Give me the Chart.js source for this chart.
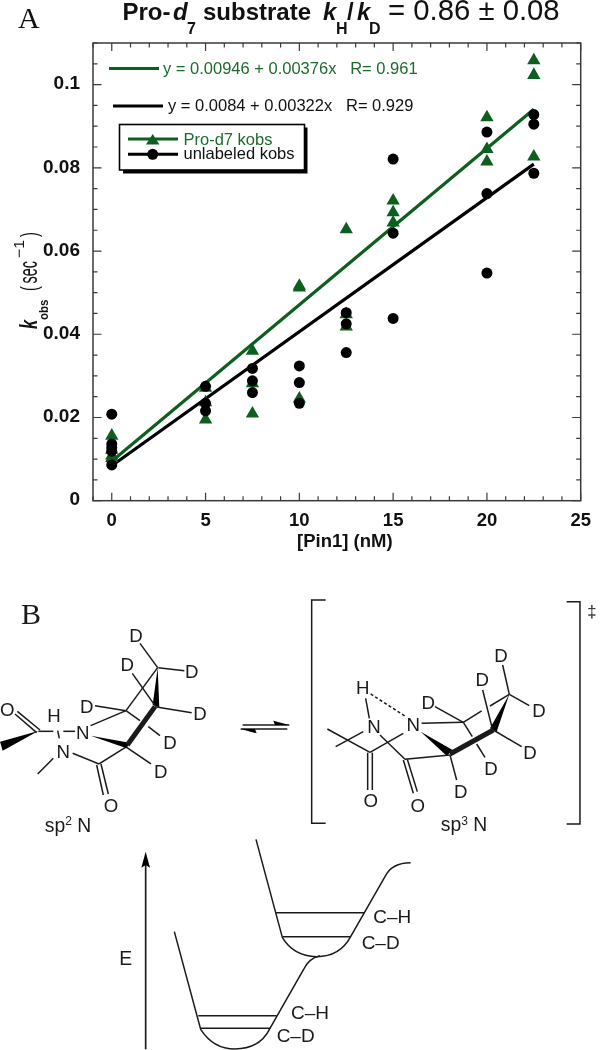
<!DOCTYPE html>
<html>
<head>
<meta charset="utf-8">
<title>Pro-d7 substrate kH/kD</title>
<script src="https://cdn.jsdelivr.net/npm/chart.js@4/dist/chart.umd.min.js"></script>
<style>
  html, body { margin: 0; padding: 0; background: #fff; }
  #wrap { position: relative; width: 600px; height: 1050px; overflow: hidden; }
  #kobsChart { position: absolute; left: 0; top: 0; }
  #scheme { position: absolute; left: 0; top: 0; }
  #scheme text { font-family: "Liberation Sans", Arial, sans-serif; fill: #1a1a1a; }
  #scheme .serif { font-family: "Liberation Serif", serif; }
  #scheme line, #scheme path.l { stroke: #1a1a1a; fill: none; }
</style>
</head>
<body>
<div id="wrap">
  <canvas id="kobsChart" width="600" height="560"></canvas>

  <!-- part B is a drawing, not data. coordinates are in 1/3 px -->
  <svg id="scheme" width="600" height="1050" viewBox="0 0 600 1050">
    <text class="serif" x="21" y="624" font-size="30">B</text>

    <g transform="translate(0,570) scale(0.3333)" stroke-width="4.5">
      <g font-size="56" text-anchor="middle" transform="translate(0,1)">
        <text x="22" y="437">O</text><text x="162" y="456">H</text>
        <text x="248" y="506">N</text><text x="190" y="564">N</text>
        <text x="333" y="726">O</text><text x="408" y="214">D</text>
        <text x="382" y="302">D</text><text x="575" y="324">D</text>
        <text x="260" y="427">D</text><text x="600" y="449">D</text>
        <text x="510" y="537">D</text><text x="482" y="622">D</text>
        <text x="204" y="785" font-size="58">sp<tspan font-size="36" dy="-20">2</tspan><tspan dy="20"> N</tspan></text>
      </g>
      <line x1="45" y1="432" x2="110" y2="488"/><line x1="52" y1="424" x2="120" y2="480"/>
      <path d="M115 483 L0 515 L8 542 Z" fill="#000"/>
      <line x1="115" y1="484" x2="160" y2="484"/><line x1="173" y1="482" x2="178" y2="505"/>
      <line x1="190" y1="484" x2="225" y2="484"/><line x1="160" y1="565" x2="113" y2="612"/>
      <line x1="218" y1="550" x2="297" y2="582"/><line x1="290" y1="585" x2="310" y2="675"/>
      <line x1="303" y1="582" x2="325" y2="672"/><line x1="297" y1="582" x2="380" y2="530"/>
      <path d="M272 497 L388 518 L380 535 Z" fill="#000"/>
      <line x1="382" y1="525" x2="465" y2="410" stroke-width="15" stroke="#000"/>
      <path d="M458 405 L478 412 L473 293 Z" fill="#000"/>
      <line x1="473" y1="293" x2="378" y2="422"/><line x1="475" y1="293" x2="553" y2="302"/>
      <line x1="473" y1="293" x2="420" y2="220"/><line x1="272" y1="467" x2="378" y2="422"/>
      <line x1="378" y1="422" x2="285" y2="407"/><line x1="378" y1="422" x2="420" y2="452"/>
      <line x1="445" y1="470" x2="480" y2="497"/><line x1="397" y1="310" x2="465" y2="407"/>
      <line x1="465" y1="410" x2="575" y2="428"/><line x1="380" y1="532" x2="453" y2="582"/>
      <line x1="728" y1="465" x2="868" y2="465"/><path d="M820 452 L868 465 L825 465 Z" fill="#000"/>
      <line x1="722" y1="477" x2="862" y2="477"/><path d="M722 477 L770 490 L765 477 Z" fill="#000"/>
    </g>

    <g transform="translate(300,570) scale(0.3333)" stroke-width="4.5">
      <path class="l" d="M77 90 L35 90 L35 760 L77 760"/><path class="l" d="M800 95 L840 95 L840 762 L800 762"/>
      <g font-size="56" text-anchor="middle" transform="translate(0,1)">
        <text x="188" y="372">H</text><text x="222" y="489">N</text><text x="340" y="481">N</text>
        <text x="212" y="709">O</text><text x="353" y="724">O</text><text x="603" y="276">D</text>
        <text x="547" y="347">D</text><text x="385" y="417">D</text><text x="717" y="441">D</text>
        <text x="690" y="566">D</text><text x="573" y="614">D</text><text x="482" y="684">D</text>
        <text x="492" y="783" font-size="58">sp<tspan font-size="36" dy="-20">3</tspan><tspan dy="20"> N</tspan></text>
        <text x="876" y="140" font-size="50">‡</text>
      </g>
      <line x1="197" y1="385" x2="208" y2="445"/>
      <line x1="212" y1="372" x2="318" y2="440" stroke-dasharray="9 7"/>
      <line x1="82" y1="477" x2="210" y2="547"/><line x1="107" y1="530" x2="190" y2="485"/>
      <line x1="210" y1="547" x2="310" y2="490"/><line x1="240" y1="495" x2="315" y2="568"/>
      <line x1="203" y1="548" x2="203" y2="660"/><line x1="217" y1="548" x2="217" y2="660"/>
      <line x1="310" y1="570" x2="340" y2="670"/><line x1="322" y1="568" x2="352" y2="665"/>
      <line x1="315" y1="568" x2="450" y2="555"/>
      <path d="M362 485 L458 540 L440 557 Z" fill="#000"/>
      <line x1="450" y1="552" x2="580" y2="480" stroke-width="15" stroke="#000"/>
      <path d="M570 475 L590 485 L628 373 Z" fill="#000"/>
      <line x1="628" y1="373" x2="570" y2="408"/><line x1="545" y1="423" x2="490" y2="457"/>
      <line x1="628" y1="373" x2="688" y2="407"/><line x1="628" y1="373" x2="608" y2="285"/>
      <line x1="365" y1="460" x2="490" y2="457"/><line x1="490" y1="457" x2="405" y2="410"/>
      <line x1="490" y1="457" x2="517" y2="500"/><line x1="530" y1="522" x2="555" y2="562"/>
      <line x1="548" y1="360" x2="578" y2="480"/><line x1="580" y1="480" x2="665" y2="530"/>
      <line x1="450" y1="555" x2="470" y2="630"/>
    </g>

    <g transform="translate(100,820) scale(0.3333)" stroke-width="4.5">
      <line x1="137" y1="688" x2="137" y2="130" stroke-width="5"/>
      <path d="M137 95 L124 143 L137 135 L150 143 Z" fill="#000"/>
      <path class="l" d="M223 335 L302 628 Q340 687 405 687 Q480 687 510 625 L610 450 Q625 415 660 407"/>
      <path class="l" d="M468 58 L547 352 Q580 408 650 410 Q720 410 752 350 L855 170 Q875 128 932 128"/>
      <line x1="295" y1="587" x2="530" y2="587"/><line x1="303" y1="625" x2="510" y2="625"/>
      <line x1="528" y1="278" x2="793" y2="278"/><line x1="548" y1="350" x2="752" y2="350"/>
      <g font-size="57">
        <text x="573" y="598">C–H</text><text x="530" y="666">C–D</text>
        <text x="820" y="309">C–H</text><text x="785" y="386">C–D</text>
        <text x="58" y="435" font-size="58">E</text>
      </g>
    </g>
  </svg>
</div>

<script>
// [Pin1] en nM, kobs en 1/s
const proD7X = [0, 0, 0, 0, 5, 5, 5, 7.5, 7.5, 7.5, 10, 10, 10, 12.5, 12.5, 12.5, 15, 15, 15, 20, 20, 20, 22.5, 22.5, 22.5];
const proD7Y = [0.0156, 0.0122, 0.0108, 0.0102, 0.0271, 0.0236, 0.0195, 0.036, 0.0282, 0.0209, 0.0516, 0.0512, 0.0245, 0.0652, 0.0448, 0.0418, 0.0721, 0.0693, 0.0668, 0.0921, 0.0845, 0.0815, 0.1058, 0.1023, 0.0827];
const unlabeledX = [0, 0, 0, 0, 0, 5, 5, 5, 7.5, 7.5, 7.5, 10, 10, 10, 12.5, 12.5, 12.5, 15, 15, 15, 20, 20, 20, 22.5, 22.5, 22.5];
const unlabeledY = [0.0208, 0.0136, 0.0127, 0.0119, 0.0086, 0.0275, 0.0234, 0.0216, 0.0318, 0.0288, 0.026, 0.0324, 0.0284, 0.0234, 0.0452, 0.0425, 0.0356, 0.0821, 0.0643, 0.0438, 0.0886, 0.0738, 0.0547, 0.0928, 0.0905, 0.0787];

// extremos de las rectas de ajuste
const fitX = [0, 22.5];
const proD7Fit = [0.0095, 0.0941];
const unlabeledFit = [0.0084, 0.0809];

const seriesNames = ['Pro-d7 kobs', 'unlabeled kobs'];
const fitNotes = ['y = 0.00946 + 0.00376x   R= 0.961', 'y = 0.0084 + 0.00322x   R= 0.929'];
const xTickLabels = ['0', '5', '10', '15', '20', '25'];
const yTickLabels = ['0', '0.02', '0.04', '0.06', '0.08', '0.1'];

const GREEN = '#0c5f1e';
const GREEN_TEXT = '#1c6b2c';
const INK = '#111';
const SANS = '"Liberation Sans", Arial, sans-serif';

function toPoints(xs, ys) {
  return xs.map((x, i) => ({ x: x, y: ys[i] }));
}

// sx estira el texto a lo largo, el eje y de la figura original esta comprimido
function put(ctx, text, x, y, font, color, sx) {
  ctx.save();
  ctx.translate(x, y);
  ctx.scale(sx || 1, 1);
  ctx.font = font;
  ctx.fillStyle = color || INK;
  ctx.textAlign = 'left';
  ctx.textBaseline = 'alphabetic';
  ctx.fillText(text, 0, 0);
  ctx.restore();
}

// marco y marcas hacia dentro
const framePlugin = {
  id: 'frame',
  beforeDatasetsDraw(chart) {
    const { ctx, chartArea: a, scales } = chart;
    ctx.save();
    ctx.strokeStyle = '#3a3a3a';
    ctx.lineWidth = 1.5;
    ctx.strokeRect(a.left, a.top, a.right - a.left, a.bottom - a.top);
    ctx.lineWidth = 1.2;
    ctx.beginPath();
    scales.x.ticks.forEach(t => {
      const px = scales.x.getPixelForValue(t.value);
      const len = t.value % 5 === 0 ? 8 : 4.5;
      ctx.moveTo(px, a.bottom); ctx.lineTo(px, a.bottom - len);
      ctx.moveTo(px, a.top); ctx.lineTo(px, a.top + len);
    });
    scales.y.ticks.forEach(t => {
      const py = scales.y.getPixelForValue(t.value);
      const major = Math.round(t.value * 1000) % 20 === 0;
      const len = major ? 8.5 : 4.5;
      ctx.moveTo(a.left, py); ctx.lineTo(a.left + len, py);
      ctx.moveTo(a.right, py); ctx.lineTo(a.right - len, py);
    });
    ctx.stroke();
    ctx.restore();
  }
};

// titulo, etiquetas, ecuaciones y leyenda
const notesPlugin = {
  id: 'notes',
  afterDraw(chart) {
    const ctx = chart.ctx;
    const b = 'bold 24px ' + SANS, bi = 'italic bold 24px ' + SANS, sub = 'bold 16px ' + SANS;

    put(ctx, 'A', 18, 28, '30px "Liberation Serif", serif', INK);

    put(ctx, 'Pro-', 122.5, 20, b);
    put(ctx, 'd', 173, 20, bi);
    put(ctx, '7', 187, 34, sub);
    put(ctx, 'substrate', 203, 20, b);
    put(ctx, 'k', 323, 20, bi);
    put(ctx, 'H', 336, 34, sub);
    put(ctx, '/', 347, 20, b);
    put(ctx, 'k', 357, 20, bi);
    put(ctx, 'D', 369, 34, sub);
    put(ctx, '= 0.86 ± 0.08', 388, 20, '29.3px ' + SANS);

    // ejes
    put(ctx, '[Pin1] (nM)', 297, 547, 'bold 18.5px ' + SANS);
    ctx.save();
    ctx.translate(37, 329);
    ctx.rotate(-Math.PI / 2);
    put(ctx, 'k', 0, 0, 'italic bold 24px ' + SANS, INK, 0.68);
    put(ctx, 'obs', 9, 10.5, 'bold 13px ' + SANS, INK, 0.88);
    put(ctx, '(', 38, 0, '24px ' + SANS, INK, 0.6);
    put(ctx, 'sec', 45.5, 0, '25px ' + SANS, INK, 0.58);
    put(ctx, '−1', 71, -13, '15px ' + SANS, INK, 1.05);
    put(ctx, ')', 92, 0, '24px ' + SANS, INK, 0.6);
    ctx.restore();

    // ecuaciones
    ctx.save();
    ctx.lineWidth = 3.2;
    ctx.strokeStyle = GREEN;
    ctx.beginPath(); ctx.moveTo(109, 68.5); ctx.lineTo(159, 68.5); ctx.stroke();
    ctx.strokeStyle = '#000';
    ctx.beginPath(); ctx.moveTo(113, 106); ctx.lineTo(163, 106); ctx.stroke();
    ctx.restore();
    put(ctx, fitNotes[0], 163, 74, '16.5px ' + SANS, GREEN_TEXT);
    put(ctx, fitNotes[1], 168, 111, '16.5px ' + SANS);

    // leyenda con sombra
    ctx.save();
    ctx.fillStyle = '#000';
    ctx.fillRect(123, 127.5, 184.5, 46);
    ctx.fillStyle = '#fff';
    ctx.strokeStyle = '#000';
    ctx.lineWidth = 1.6;
    ctx.fillRect(119.5, 124.5, 185, 45.5);
    ctx.strokeRect(119.5, 124.5, 185, 45.5);
    ctx.lineWidth = 3;
    ctx.strokeStyle = GREEN;
    ctx.beginPath(); ctx.moveTo(128, 139); ctx.lineTo(178, 139); ctx.stroke();
    ctx.strokeStyle = '#000';
    ctx.beginPath(); ctx.moveTo(128, 154.3); ctx.lineTo(178, 154.3); ctx.stroke();
    ctx.fillStyle = GREEN;
    ctx.beginPath(); ctx.moveTo(152.7, 134); ctx.lineTo(159.4, 144.6); ctx.lineTo(146, 144.6); ctx.closePath(); ctx.fill();
    ctx.fillStyle = '#000';
    ctx.beginPath(); ctx.arc(152.7, 154.3, 5.5, 0, Math.PI * 2); ctx.fill();
    ctx.restore();
    put(ctx, seriesNames[0], 183.5, 144.5, '16.5px ' + SANS, GREEN_TEXT);
    put(ctx, seriesNames[1], 183.5, 159, '16.5px ' + SANS);
  }
};

const ctx = document.getElementById('kobsChart').getContext('2d');

const kobsChart = new Chart(ctx, {
  type: 'scatter',
  data: {
    datasets: [
      {
        label: seriesNames[1],
        data: toPoints(unlabeledX, unlabeledY),
        pointStyle: 'circle',
        pointRadius: 5.5,
        backgroundColor: '#000',
        borderColor: '#000',
        borderWidth: 0
      },
      {
        label: seriesNames[0],
        data: toPoints(proD7X, proD7Y),
        pointStyle: 'triangle',
        pointRadius: 7.7,
        backgroundColor: GREEN,
        borderColor: GREEN,
        borderWidth: 0
      },
      {
        label: 'Pro-d7 fit',
        data: toPoints(fitX, proD7Fit),
        showLine: true,
        pointRadius: 0,
        borderColor: GREEN,
        borderWidth: 3.2
      },
      {
        label: 'unlabeled fit',
        data: toPoints(fitX, unlabeledFit),
        showLine: true,
        pointRadius: 0,
        borderColor: '#000',
        borderWidth: 3.2
      }
    ]
  },
  options: {
    responsive: false,
    animation: false,
    layout: { padding: { top: 43, right: 10.5, left: 0, bottom: 0 } },
    plugins: { legend: { display: false }, tooltip: { enabled: false } },
    scales: {
      x: {
        type: 'linear',
        min: -1,
        max: 25,
        afterFit: scale => { scale.height = 59.3; },
        grid: { drawOnChartArea: false, drawTicks: false },
        border: { display: false },
        ticks: {
          stepSize: 1,
          autoSkip: false,
          maxRotation: 0,
          padding: 9,
          color: INK,
          font: { family: SANS, size: 18.5, weight: 'bold' },
          callback: v => (v % 5 === 0 ? xTickLabels[v / 5] : '')
        }
      },
      y: {
        min: 0,
        max: 0.11,
        afterFit: scale => { scale.width = 93; },
        grid: { drawOnChartArea: false, drawTicks: false },
        border: { display: false },
        ticks: {
          stepSize: 0.005,
          autoSkip: false,
          padding: 13,
          labelOffset: -0.5,
          color: INK,
          font: { family: SANS, size: 19, weight: 'bold' },
          callback: v => {
            const k = Math.round(v / 0.005);
            return k % 4 === 0 ? yTickLabels[k / 4] : '';
          }
        }
      }
    }
  },
  plugins: [framePlugin, notesPlugin]
});
</script>
</body>
</html>
